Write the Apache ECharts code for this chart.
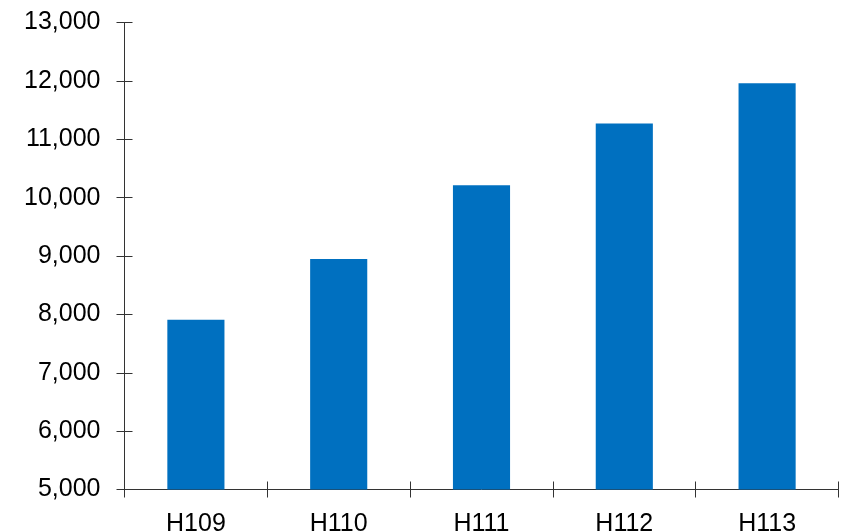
<!DOCTYPE html>
<html>
<head>
<meta charset="utf-8">
<script src="https://cdn.jsdelivr.net/npm/echarts@6/dist/echarts.min.js"></script>
<style>
  html, body { margin: 0; padding: 0; background: #fff; }
  #chart { width: 846px; height: 532px; }
</style>
</head>
<body>
<div id="chart"></div>
<script>
// Fiscal years (Heisei) and their totals
const categories = ['H109', 'H110', 'H111', 'H112', 'H113'];
const values = [7910, 8950, 10210, 11270, 11960];

// Value axis range
const yMin = 5000;
const yMax = 13000;
const yStep = 1000;

const axisColor = '#333333';
const labelFont = { fontFamily: 'Liberation Sans, Arial, sans-serif', fontSize: 25, color: '#000' };

const chart = echarts.init(document.getElementById('chart'), null, { renderer: 'canvas' });

chart.setOption({
  animation: false,
  backgroundColor: '#fff',
  grid: {
    left: 124.5, right: 7.5, top: 22.5, bottom: 42.5,
    containLabel: false,
    outerBoundsMode: 'none'   // keep the plot area fixed; bottom labels may run off the edge
  },
  xAxis: [
    {
      type: 'category',
      data: categories,
      boundaryGap: true,
      axisLine: { show: true, lineStyle: { color: axisColor, width: 1 } },
      axisTick: { show: true, inside: false, length: 8, lineStyle: { color: axisColor } },
      axisLabel: Object.assign({ margin: 22 }, labelFont),
      splitLine: { show: false }
    },
    {
      // second copy of the category axis draws the inner half of each tick
      type: 'category',
      data: categories,
      position: 'bottom',
      boundaryGap: true,
      axisLine: { show: false },
      axisTick: { show: true, inside: true, length: 8, lineStyle: { color: axisColor } },
      axisLabel: { show: false },
      splitLine: { show: false }
    }
  ],
  yAxis: [
    {
      type: 'value',
      min: yMin,
      max: yMax,
      interval: yStep,
      axisLine: { show: true, lineStyle: { color: axisColor, width: 1 } },
      axisTick: { show: true, inside: false, length: 8, lineStyle: { color: axisColor } },
      axisLabel: Object.assign({
        margin: 24,
        formatter: v => v.toLocaleString('en-US')
      }, labelFont),
      splitLine: { show: false }
    },
    {
      type: 'value',
      position: 'left',
      min: yMin,
      max: yMax,
      interval: yStep,
      axisLine: { show: false },
      axisTick: { show: true, inside: true, length: 8, lineStyle: { color: axisColor } },
      axisLabel: { show: false },
      splitLine: { show: false }
    }
  ],
  series: [
    {
      type: 'bar',
      xAxisIndex: 0,
      yAxisIndex: 0,
      data: values,
      barCategoryGap: '60%',
      itemStyle: { color: '#0070C0' }
    }
  ]
});
</script>
</body>
</html>
